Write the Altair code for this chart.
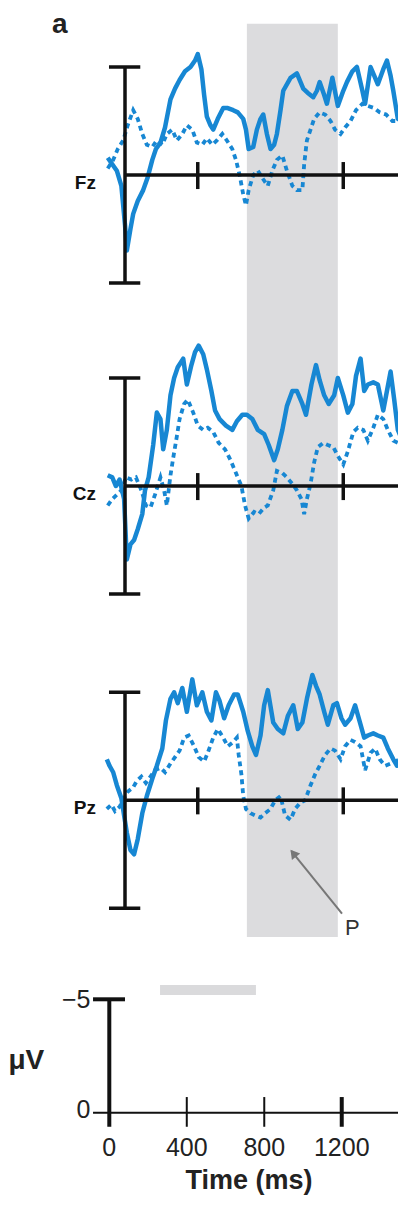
import altair as alt
import pandas as pd

# ---------------- data (time in ms, amplitude in µV; negative plotted up) ----------------
fz_solid_t = [-95, -70, -45, -20, 0, 10, 30, 45, 70, 100, 125, 150, 170, 195, 220, 250, 275, 300, 330, 360,
              385, 400, 420, 435, 450, 470, 485, 510, 540, 565, 595, 620, 650, 665, 680, 705, 725, 745, 760, 780,
              800, 820, 835, 855, 870, 910, 945, 980, 1005, 1035, 1055, 1070, 1095, 1110, 1140, 1170, 1200, 1220,
              1250, 1275, 1305, 1320, 1350, 1370, 1390, 1420, 1440, 1460, 1475, 1500, 1525]
fz_solid_v = [-0.8, -0.5, -0.2, 0.5, 2.3, 3.5, 2.5, 1.8, 1.2, 0.7, 0.1, -0.7, -1.2, -1.5, -2.2, -3.5, -4.0, -4.4, -4.8, -5.0,
              -5.3, -5.6, -4.9, -3.7, -2.7, -2.3, -2.1, -2.6, -3.1, -3.1, -3.0, -2.9, -2.6, -2.1, -1.2, -1.3, -2.1, -2.6, -2.8, -1.9,
              -1.2, -1.4, -1.9, -3.0, -3.9, -4.5, -4.7, -4.0, -3.8, -3.6, -3.9, -4.3, -3.7, -3.3, -4.5, -3.2, -3.9, -4.3,
              -4.8, -5.0, -3.9, -3.3, -5.0, -4.6, -4.2, -4.9, -5.3, -4.6, -3.9, -2.6, -2.5]
fz_dash_t = [-95, -65, -40, -10, 15, 45, 70, 95, 120, 150, 175, 205, 230, 260, 285, 315, 340, 370, 395, 425,
             450, 480, 505, 535, 560, 590, 610, 630, 650, 665, 680, 705, 730, 760, 785, 810, 835, 865, 890, 920,
             945, 975, 985, 1000, 1020, 1040, 1070, 1100, 1130, 1155, 1185, 1210, 1240, 1270, 1305, 1335, 1370,
             1400, 1435, 1470, 1500]
fz_dash_v = [-0.3, -0.7, -1.2, -1.6, -2.3, -3.0, -2.6, -1.9, -1.4, -1.3, -1.6, -1.4, -1.9, -2.1, -1.6, -1.9, -2.3, -2.1, -1.5, -1.4,
             -1.7, -1.4, -1.6, -1.9, -1.6, -1.2, -0.7, 0.0, 0.9, 1.4, 0.7, 0.0, -0.2, 0.2, 0.5, -0.2, -0.7, -0.9, -0.2, 0.5,
             0.7, 0.7, -0.5, -1.6, -2.1, -2.6, -2.9, -2.8, -2.5, -2.1, -1.9, -2.2, -2.5, -3.0, -3.3, -3.2, -3.1,
             -2.9, -2.8, -2.5, -2.5]

cz_solid_t = [-95, -70, -50, -30, -5, 10, 30, 50, 70, 95, 110, 130, 155, 175, 195, 210, 230, 250, 270, 290,
              320, 340, 365, 385, 405, 430, 450, 475, 495, 520, 555, 590, 615, 645, 670, 700, 730, 765, 790, 820,
              840, 865, 890, 920, 945, 975, 995, 1025, 1050, 1070, 1095, 1120, 1150, 1170, 1200, 1225, 1250, 1270,
              1295, 1315, 1335, 1365, 1390, 1420, 1440, 1460, 1480, 1500, 1525]
cz_solid_v = [-0.5, -0.4, 0.0, -0.3, 0.6, 3.4, 2.7, 2.5, 2.0, 1.3, 0.2, -0.4, -1.9, -3.4, -3.1, -1.7, -2.6, -4.2, -5.0, -5.5,
              -5.9, -4.7, -5.6, -6.2, -6.5, -6.1, -5.4, -4.4, -3.5, -3.1, -2.8, -2.6, -3.0, -3.3, -3.3, -3.1, -2.6, -2.4, -1.9, -1.2,
              -1.7, -2.6, -3.7, -4.4, -4.4, -3.8, -3.3, -4.7, -5.6, -4.9, -4.2, -3.8, -4.2, -5.0, -4.2, -3.4, -3.8, -5.1,
              -5.9, -4.4, -4.7, -4.8, -4.7, -3.5, -4.4, -5.3, -4.0, -2.6, -2.1]
cz_dash_t = [-95, -70, -45, -20, 5, 35, 60, 90, 115, 140, 165, 195, 215, 230, 250, 265, 285, 300, 325, 345,
             375, 400, 430, 455, 485, 515, 550, 580, 610, 640, 660, 680, 710, 735, 765, 785, 815, 835, 865, 890,
             920, 945, 970, 985, 1000, 1020, 1040, 1060, 1090, 1115, 1145, 1170, 1200, 1225, 1255, 1280, 1310,
             1335, 1365, 1390, 1420, 1445, 1475, 1500]
cz_dash_v = [0.9, 0.6, 0.4, 0.2, -0.4, -0.3, -0.4, 0.2, 0.9, 1.0, 0.4, -0.4, 0.2, 0.9, -0.5, -1.3, -2.3, -3.1, -3.8, -4.0,
             -3.4, -2.8, -2.6, -2.7, -2.5, -2.0, -1.7, -1.2, -0.6, 0.0, 0.9, 1.5, 1.2, 1.3, 1.0, 0.9, 0.2, -0.7, -0.6, -0.4,
             -0.1, 0.2, 0.6, 1.3, 0.6, -0.1, -1.1, -1.8, -2.0, -1.9, -1.8, -1.4, -1.0, -1.6, -2.5, -2.7, -2.6,
             -2.1, -2.7, -3.3, -3.1, -2.6, -2.1, -2.0]

pz_solid_t = [-100, -85, -65, -45, -20, -5, 10, 30, 50, 70, 95, 120, 150, 175, 205, 225, 250, 270, 290, 315,
              340, 370, 395, 425, 450, 475, 500, 520, 545, 570, 600, 620, 650, 675, 700, 720, 745, 765, 785, 815,
              840, 870, 895, 925, 950, 975, 1000, 1030, 1050, 1070, 1095, 1115, 1145, 1165, 1190, 1210, 1240, 1265,
              1295, 1315, 1335, 1365, 1390, 1420, 1445, 1475, 1495, 1520]
pz_solid_v = [-1.9, -1.6, -1.3, -0.7, -0.1, 0.7, 1.5, 2.3, 2.5, 1.8, 0.6, -0.2, -1.0, -1.6, -2.4, -3.7, -4.7, -5.0, -4.5, -5.2,
              -4.1, -5.6, -4.4, -5.0, -4.1, -3.7, -5.0, -4.6, -3.8, -4.4, -4.9, -4.9, -4.1, -3.2, -2.5, -2.1, -3.0, -4.4, -5.1, -3.6,
              -3.3, -3.1, -3.9, -4.4, -3.3, -3.6, -4.7, -5.8, -5.3, -4.9, -4.1, -3.5, -4.4, -4.5, -3.8, -3.5, -3.8, -4.4,
              -3.5, -2.9, -3.0, -3.1, -3.0, -2.9, -2.4, -1.9, -1.6, -1.9]
pz_dash_t = [-100, -75, -55, -30, -5, 15, 45, 65, 90, 115, 140, 165, 195, 220, 250, 275, 300, 325, 350, 380,
             405, 435, 455, 485, 510, 540, 565, 595, 615, 625, 640, 650, 665, 690, 715, 745, 770, 800, 825, 855,
             880, 910, 935, 965, 990, 1020, 1045, 1070, 1100, 1130, 1155, 1185, 1210, 1240, 1265, 1295, 1320,
             1350, 1375, 1400, 1430, 1460, 1485, 1510]
pz_dash_v = [0.4, 0.2, 0.5, 0.3, -0.1, -0.4, -0.6, -0.9, -1.1, -0.8, -1.1, -1.4, -1.5, -1.3, -1.7, -2.0, -2.3, -2.9, -3.0, -2.5,
             -2.0, -1.8, -2.2, -2.9, -3.3, -2.9, -2.5, -2.7, -2.9, -2.1, -1.2, -0.2, 0.4, 0.6, 0.7, 0.8, 0.6, 0.4, 0.0, -0.2,
             0.7, 0.9, 0.4, 0.1, 0.0, -0.7, -1.2, -1.6, -2.1, -2.4, -2.3, -1.9, -2.5, -2.8, -2.7, -2.5, -1.4,
             -2.2, -2.4, -1.9, -1.6, -1.7, -1.8, -1.9]

panels = ["Fz", "Cz", "Pz"]
panel_offset = [0.0, 14.4, 28.95]          # vertical stacking of the three electrodes (µV units)
top_ticks = [400, 1200]                    # tick marks on each electrode's baseline
analysis_window = [670, 1170]              # grey shaded window (ms)
scale_ticks = [0, 400, 800, 1200]          # calibration panel tick labels
scale_window = [262, 757]                  # grey bar in calibration panel (ms)

# ---------------- layout ----------------
W, H = 390, 1190
BLUE = "#1787d3"
BLACK = "#111111"
FONT = "Liberation Sans"

# top panels: 0 ms at x=117 px, 0.1819 px/ms ; baseline of Fz at y=167 px, 21.6 px/µV
X_TOP = alt.Scale(domain=[-117 / 0.1819, (W - 117) / 0.1819], nice=False, zero=False)
Y_TOP = alt.Scale(domain=[-167 / 21.6, (H - 167) / 21.6], reverse=True, nice=False, zero=False)
# calibration panel: 0 ms at x=101.3 px, 0.1937 px/ms ; 0 µV at y=1104.7 px, 22.68 px/µV
X_BOT = alt.Scale(domain=[-101.3 / 0.1937, (W - 101.3) / 0.1937], nice=False, zero=False)
Y_BOT = alt.Scale(domain=[-1104.7 / 22.68, (H - 1104.7) / 22.68], reverse=True, nice=False, zero=False)


def X(f, s):
    return alt.X(f, type="quantitative", scale=s, axis=None)


def Y(f, s):
    return alt.Y(f, type="quantitative", scale=s, axis=None)


# ---------------- tables ----------------
series = {
    ("Fz", "solid"): (fz_solid_t, fz_solid_v), ("Fz", "dash"): (fz_dash_t, fz_dash_v),
    ("Cz", "solid"): (cz_solid_t, cz_solid_v), ("Cz", "dash"): (cz_dash_t, cz_dash_v),
    ("Pz", "solid"): (pz_solid_t, pz_solid_v), ("Pz", "dash"): (pz_dash_t, pz_dash_v),
}
rows = []
for (p, style), (ts, vs) in series.items():
    assert len(ts) == len(vs), (p, style)
    off = panel_offset[panels.index(p)]
    for i, (t, v) in enumerate(zip(ts, vs)):
        rows.append({"panel": p, "style": style, "i": i, "t": t, "v": v, "u": v + off})
traces = pd.DataFrame(rows)

pan = pd.DataFrame({"panel": panels, "off": panel_offset})
pan["top"] = pan["off"] - 5
pan["bot"] = pan["off"] + 5
pan["lab"] = pan["off"] + 0.35
pan["lx"] = -160
pan["z0"] = 0
pan["z1"] = 1560
caps = pd.DataFrame([{"y": o + s, "x0": -88, "x1": 84} for o in panel_offset for s in (-5, 5)])
ticks = pd.DataFrame([{"t": t, "y0": o - 0.6, "y1": o + 0.65} for o in panel_offset for t in top_ticks])
band = pd.DataFrame({"t0": [analysis_window[0]], "t1": [analysis_window[1]], "u0": [-7.0], "u1": [35.28]})

# ---------------- top (electrode traces) ----------------
band_l = alt.Chart(band).mark_rect(color="#dcdcde").encode(
    x=X("t0", X_TOP), x2="t1", y=Y("u0", Y_TOP), y2="u1")

solid_l = alt.Chart(traces[traces["style"] == "solid"]).mark_line(
    color=BLUE, strokeWidth=4.5, strokeJoin="round").encode(
    x=X("t", X_TOP), y=Y("u", Y_TOP), detail="panel:N", order="i:Q")

dash_l = alt.Chart(traces[traces["style"] == "dash"]).mark_line(
    color=BLUE, strokeWidth=3.8, strokeDash=[5, 4]).encode(
    x=X("t", X_TOP), y=Y("u", Y_TOP), detail="panel:N", order="i:Q")

vbar_l = alt.Chart(pan).mark_rule(color=BLACK, strokeWidth=3.5).encode(
    x=X("z0", X_TOP), y=Y("top", Y_TOP), y2="bot")
cap_l = alt.Chart(caps).mark_rule(color=BLACK, strokeWidth=3.5).encode(
    x=X("x0", X_TOP), x2="x1", y=Y("y", Y_TOP))
zero_l = alt.Chart(pan).mark_rule(color=BLACK, strokeWidth=3.5).encode(
    x=X("z0", X_TOP), x2="z1", y=Y("off", Y_TOP))
tick_l = alt.Chart(ticks).mark_rule(color=BLACK, strokeWidth=3.5).encode(
    x=X("t", X_TOP), y=Y("y0", Y_TOP), y2="y1")
plab_l = alt.Chart(pan).mark_text(font=FONT, fontSize=19, fontWeight="bold", color=BLACK,
                                  align="right", baseline="middle").encode(
    x=X("lx", X_TOP), y=Y("lab", Y_TOP), text="panel:N")

a_l = alt.Chart(pd.DataFrame({"t": [-402], "u": [-6.57], "s": ["a"]})).mark_text(
    font=FONT, fontSize=28, fontWeight="bold", color="#222222", align="left", baseline="alphabetic").encode(
    x=X("t", X_TOP), y=Y("u", Y_TOP), text="s:N")

arrow = pd.DataFrame({"t": [1193], "u": [34.2], "t2": [915], "u2": [31.3]})
arrow_l = alt.Chart(arrow).mark_rule(color="#777777", strokeWidth=2).encode(
    x=X("t", X_TOP), y=Y("u", Y_TOP), x2="t2", y2="u2")
head_l = alt.Chart(pd.DataFrame({"t": [925], "u": [31.4]})).mark_point(
    shape="triangle-up", filled=True, size=110, angle=322, color="#777777", opacity=1).encode(
    x=X("t", X_TOP), y=Y("u", Y_TOP))
p_l = alt.Chart(pd.DataFrame({"t": [1250], "u": [34.85], "s": ["P"]})).mark_text(
    font=FONT, fontSize=22, color="#333333", align="center", baseline="middle").encode(
    x=X("t", X_TOP), y=Y("u", Y_TOP), text="s:N")

# ---------------- bottom (calibration) ----------------
sbar = pd.DataFrame({"t0": [scale_window[0]], "t1": [scale_window[1]], "v0": [-5.63], "v1": [-5.19]})
sbar_l = alt.Chart(sbar).mark_rect(color="#dadadc").encode(
    x=X("t0", X_BOT), x2="t1", y=Y("v0", Y_BOT), y2="v1")

bvert_l = alt.Chart(pd.DataFrame({"t": [0], "a": [-5], "b": [0.62]})).mark_rule(
    color=BLACK, strokeWidth=4).encode(x=X("t", X_BOT), y=Y("a", Y_BOT), y2="b")
bcap_l = alt.Chart(pd.DataFrame({"a": [-84], "b": [81], "v": [-5]})).mark_rule(
    color=BLACK, strokeWidth=4).encode(x=X("a", X_BOT), x2="b", y=Y("v", Y_BOT))
bzero_l = alt.Chart(pd.DataFrame({"a": [-84], "b": [1560], "v": [0]})).mark_rule(
    color=BLACK, strokeWidth=2).encode(x=X("a", X_BOT), x2="b", y=Y("v", Y_BOT))
bt = pd.DataFrame({"t": scale_ticks[1:], "a": [-0.69] * 3, "b": [0.62] * 3, "w": [2, 2, 4]})
btick_l = alt.Chart(bt).mark_rule(color=BLACK).encode(
    x=X("t", X_BOT), y=Y("a", Y_BOT), y2="b", strokeWidth=alt.StrokeWidth("w:Q", scale=None))

btl = pd.DataFrame({"t": scale_ticks, "v": [1.56] * 4, "s": [str(t) for t in scale_ticks]})
btl_l = alt.Chart(btl).mark_text(font=FONT, fontSize=25, color="#222222", align="center",
                                 baseline="middle").encode(
    x=X("t", X_BOT), y=Y("v", Y_BOT), text="s:N")
byl = pd.DataFrame({"t": [-97, -97], "v": [-4.97, -0.1], "s": ["\u22125", "0"]})
byl_l = alt.Chart(byl).mark_text(font=FONT, fontSize=25, color="#222222", align="right",
                                 baseline="middle").encode(
    x=X("t", X_BOT), y=Y("v", Y_BOT), text="s:N")
uv_l = alt.Chart(pd.DataFrame({"t": [-428], "v": [-2.3], "s": ["\u03bcV"]})).mark_text(
    font=FONT, fontSize=28, fontWeight="bold", color="#222222", align="center", baseline="middle").encode(
    x=X("t", X_BOT), y=Y("v", Y_BOT), text="s:N")
time_l = alt.Chart(pd.DataFrame({"t": [721], "v": [3.0], "s": ["Time (ms)"]})).mark_text(
    font=FONT, fontSize=27, fontWeight="bold", color="#222222", align="center", baseline="middle").encode(
    x=X("t", X_BOT), y=Y("v", Y_BOT), text="s:N")

chart = alt.layer(
    band_l, solid_l, dash_l, vbar_l, cap_l, zero_l, tick_l, plab_l, a_l, arrow_l, head_l, p_l,
    sbar_l, bvert_l, bcap_l, bzero_l, btick_l, btl_l, byl_l, uv_l, time_l,
).resolve_scale(x="independent", y="independent").properties(
    width=W, height=H, padding=0, autosize=alt.AutoSizeParams(type="none"), background="white"
).configure_view(stroke=None)

chart.save("out.html", embed_options={"renderer": "svg", "actions": False})
